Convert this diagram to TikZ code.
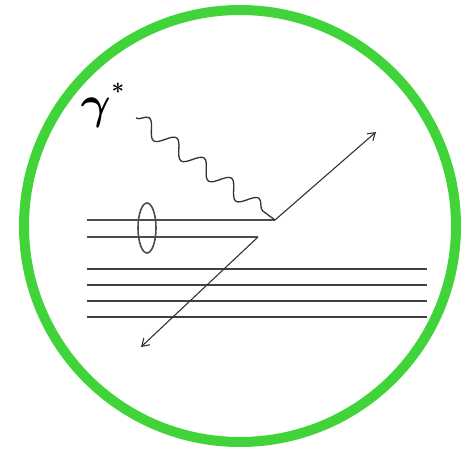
\documentclass[tikz,border=0pt]{standalone}
\usepackage{amsmath, amssymb, bm}
\usepackage{tikz}
\usetikzlibrary{decorations.pathmorphing,arrows.meta}
\definecolor{ringgreen}{RGB}{64,212,58}

\begin{document}
\begin{tikzpicture}[x=1pt,y=-1pt,>={Straight Barb[length=7pt,width=9pt]},
    ring/.style={draw=ringgreen,line width=10pt},
    quark/.style={draw=black!70,line width=1.6pt},
    hadron/.style={draw=black!75,line width=1.6pt},
    track/.style={->,draw=black!80,line width=1.1pt},
    photon/.style={draw=black!80,line width=1.3pt,decorate,
      decoration={snake,segment length=34pt,amplitude=8pt,post length=3pt}}]
  \useasboundingbox (0,0) rectangle (466,452);

  % outer ring
  \draw[ring] (240,226) circle (216);

  % vertices
  \coordinate (gin)  at (136,118);
  \coordinate (vtx)  at (275,220);
  \coordinate (vtx2) at (258,237);
  \coordinate (out1) at (376,132);
  \coordinate (out2) at (141,347);

  % incoming quark pair and the diquark ellipse
  \draw[quark] (87,220) -- (vtx);
  \draw[quark] (87,237) -- (vtx2);
  \draw[quark] (147,228) ellipse (9 and 25);

  % spectator lines
  \foreach \yy in {269,285,301,317}
    \draw[hadron] (87,\yy) -- (427,\yy);

  % virtual photon and outgoing tracks
  \draw[photon] (gin) -- (vtx);
  \draw[track] (vtx) -- (out1);
  \draw[track] (vtx2) -- (out2);

  \node[scale=4.6,inner sep=0pt] (gam) at (96,113) {$\bm{\gamma}$};
  \node[scale=2.2,inner sep=0pt] (star) at (118,88) {$\bm{*}$};
\end{tikzpicture}
\end{document}
